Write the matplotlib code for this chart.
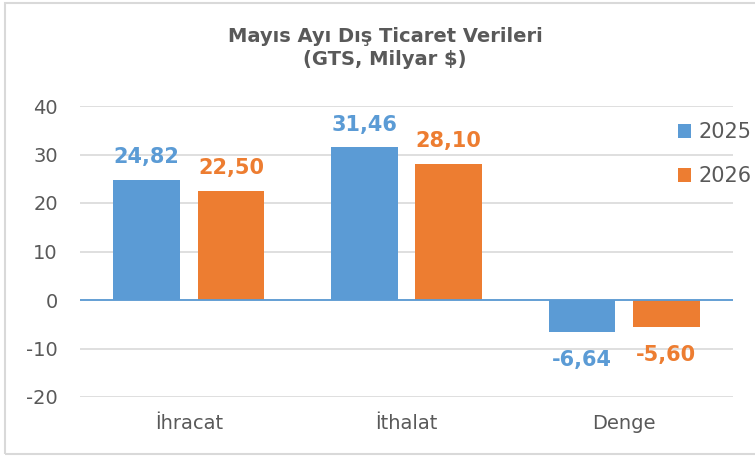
import matplotlib.pyplot as plt
from matplotlib.patches import Rectangle
import numpy as np

plt.rcParams['font.family'] = ['DejaVu Sans']

categories = ["İhracat", "İthalat", "Denge"]
years = ["2025", "2026"]
values_2025 = [24.82, 31.46, -6.64]
values_2026 = [22.50, 28.10, -5.60]
yticks = [-20, -10, 0, 10, 20, 30, 40]

colors = ["#5B9BD5", "#ED7D31"]
text_gray = "#595959"


def fmt(v):
    return f"{v:.2f}".replace(".", ",")


fig = plt.figure(figsize=(7.55, 4.57), dpi=100)
ax = fig.add_axes([80 / 755, 1 - 397 / 457, 653 / 755, 291 / 457])

x = np.arange(len(categories))
width = 0.307
offset = 0.194

for i, (vals, col, lbl) in enumerate(zip([values_2025, values_2026], colors, years)):
    pos = x + (-offset if i == 0 else offset)
    bars = ax.bar(pos, vals, width=width, color=col, label=lbl, zorder=2)
    for b, v in zip(bars, vals):
        if v >= 0:
            ax.annotate(fmt(v), (b.get_x() + b.get_width() / 2, v), xytext=(0, 9),
                        textcoords="offset points", ha="center", va="bottom",
                        fontsize=15, fontweight="bold", color=col)
        else:
            ax.annotate(fmt(v), (b.get_x() + b.get_width() / 2, v), xytext=(0, -13),
                        textcoords="offset points", ha="center", va="top",
                        fontsize=15, fontweight="bold", color=col)

ax.set_xlim(-0.5, 2.5)
ax.set_ylim(-20, 40)
ax.set_yticks(yticks)
ax.set_yticklabels([str(t) for t in yticks])
ax.set_xticks(x)
ax.set_xticklabels(categories)
ax.yaxis.grid(True, color="#D9D9D9", linewidth=1.2, zorder=0)
ax.set_axisbelow(True)
ax.axhline(0, color="#5B9BD5", linewidth=1.3, zorder=3)
for s in ax.spines.values():
    s.set_visible(False)
ax.tick_params(axis="both", length=0, labelsize=14, colors=text_gray)
ax.tick_params(axis="x", pad=12)
ax.tick_params(axis="y", pad=16)

fig.text(385 / 755, 1 - 48 / 457, "Mayıs Ayı Dış Ticaret Verileri\n(GTS, Milyar $)",
         ha="center", va="center", fontsize=14, fontweight="bold", color=text_gray,
         linespacing=1.3)

leg = fig.legend(loc="upper left", bbox_to_anchor=(670 / 755, 1 - 114 / 457), frameon=False,
                 fontsize=15, handlelength=0.6, handleheight=0.6, handletextpad=0.35,
                 labelspacing=1.15, labelcolor=text_gray, borderaxespad=0, borderpad=0.4)

fig.patches.append(Rectangle((5 / 755, 3 / 457), 1.1, 1 - 6 / 457, transform=fig.transFigure,
                             fill=False, edgecolor="#D9D9D9", linewidth=1.5))

fig.savefig("out.png", dpi=100)
